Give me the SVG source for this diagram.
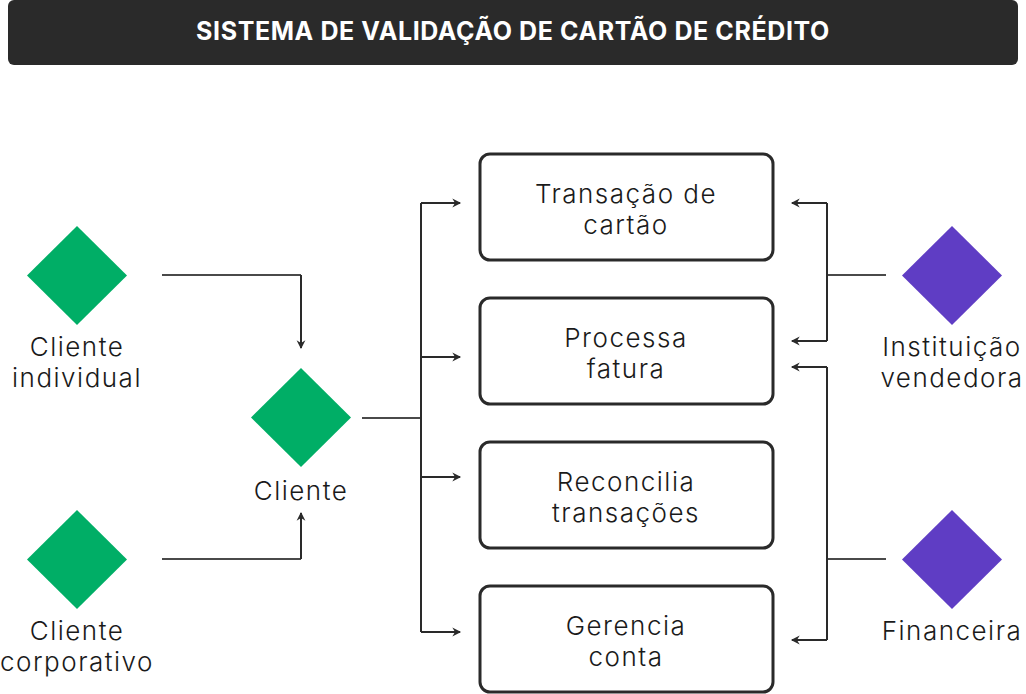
<svg xmlns="http://www.w3.org/2000/svg" width="1026" height="694" viewBox="0 0 1026 694">
<style>
.t{font-family:Inter,"Open Sans","Liberation Sans",sans-serif;font-size:26px;font-weight:300;letter-spacing:1.5px;fill:#1a1a1a;text-anchor:middle}
.title{font-family:Inter,"Open Sans","Liberation Sans",sans-serif;font-size:25px;font-weight:700;letter-spacing:0.6px;fill:#ffffff;text-anchor:middle}
.box{fill:#ffffff;stroke:#2a2a2a;stroke-width:3}
.c{fill:none;stroke:#2a2a2a;stroke-width:2}
.s{fill:none;stroke:#4a4a4a;stroke-width:2}
.g{fill:#00ae66}
.p{fill:#5f3dc4}
</style>
<defs>
<marker id="ah" viewBox="0 0 10 10" refX="8" refY="5" markerWidth="11" markerHeight="11" orient="auto" markerUnits="userSpaceOnUse">
<path d="M1,1 L9,5 L1,9 L3.5,5 Z" fill="#2a2a2a"/>
</marker>
</defs>
<rect width="1026" height="694" fill="#ffffff"/>
<g id="title">
<rect x="8" y="0" width="1010" height="65" rx="6" fill="#2a2a2a"/>
<text class="title" x="513" y="40">SISTEMA DE VALIDAÇÃO DE CARTÃO DE CRÉDITO</text>
</g>
<g id="connectors">
<path class="s" d="M162,275 H301"/>
<path class="c" d="M301,275 V348" marker-end="url(#ah)"/>
<path class="s" d="M162,559 H301"/>
<path class="c" d="M301,559 V513" marker-end="url(#ah)"/>
<path class="s" d="M362,418 H421"/>
<path class="c" d="M421,203 V632"/>
<path class="c" d="M421,203 H460" marker-end="url(#ah)"/>
<path class="c" d="M421,357 H460" marker-end="url(#ah)"/>
<path class="c" d="M421,477 H460" marker-end="url(#ah)"/>
<path class="c" d="M421,632 H460" marker-end="url(#ah)"/>
<path class="s" d="M886,275 H827"/>
<path class="c" d="M827,203 V341"/>
<path class="c" d="M827,203 H792" marker-end="url(#ah)"/>
<path class="c" d="M827,341 H792" marker-end="url(#ah)"/>
<path class="s" d="M886,559 H827"/>
<path class="c" d="M827,367 V640"/>
<path class="c" d="M827,367 H792" marker-end="url(#ah)"/>
<path class="c" d="M827,640 H792" marker-end="url(#ah)"/>
</g>
<g id="transacao">
<rect class="box" x="480" y="154" width="293" height="106" rx="10"/>
<text class="t" x="626" y="203">Transação de</text>
<text class="t" x="626" y="234">cartão</text>
</g>
<g id="processa">
<rect class="box" x="480" y="298" width="293" height="106" rx="10"/>
<text class="t" x="626" y="347">Processa</text>
<text class="t" x="626" y="378">fatura</text>
</g>
<g id="reconcilia">
<rect class="box" x="480" y="442" width="293" height="106" rx="10"/>
<text class="t" x="626" y="491">Reconcilia</text>
<text class="t" x="626" y="522">transações</text>
</g>
<g id="gerencia">
<rect class="box" x="480" y="586" width="293" height="106" rx="10"/>
<text class="t" x="626" y="635">Gerencia</text>
<text class="t" x="626" y="666">conta</text>
</g>
<g id="cliente-individual">
<path class="g" d="M77,226 L127,275.5 L77,325 L27,275.5 Z"/>
<text class="t" x="77" y="356">Cliente</text>
<text class="t" x="77" y="387">individual</text>
</g>
<g id="cliente-corporativo">
<path class="g" d="M77,510 L127,559.5 L77,609 L27,559.5 Z"/>
<text class="t" x="77" y="640">Cliente</text>
<text class="t" x="77" y="671">corporativo</text>
</g>
<g id="cliente">
<path class="g" d="M301,368 L351,417.5 L301,467 L251,417.5 Z"/>
<text class="t" x="301" y="500">Cliente</text>
</g>
<g id="instituicao">
<path class="p" d="M952,226 L1002,275.5 L952,325 L902,275.5 Z"/>
<text class="t" x="952" y="356">Instituição</text>
<text class="t" x="952" y="387">vendedora</text>
</g>
<g id="financeira">
<path class="p" d="M952,510 L1002,559.5 L952,609 L902,559.5 Z"/>
<text class="t" x="952" y="640">Financeira</text>
</g>
</svg>
